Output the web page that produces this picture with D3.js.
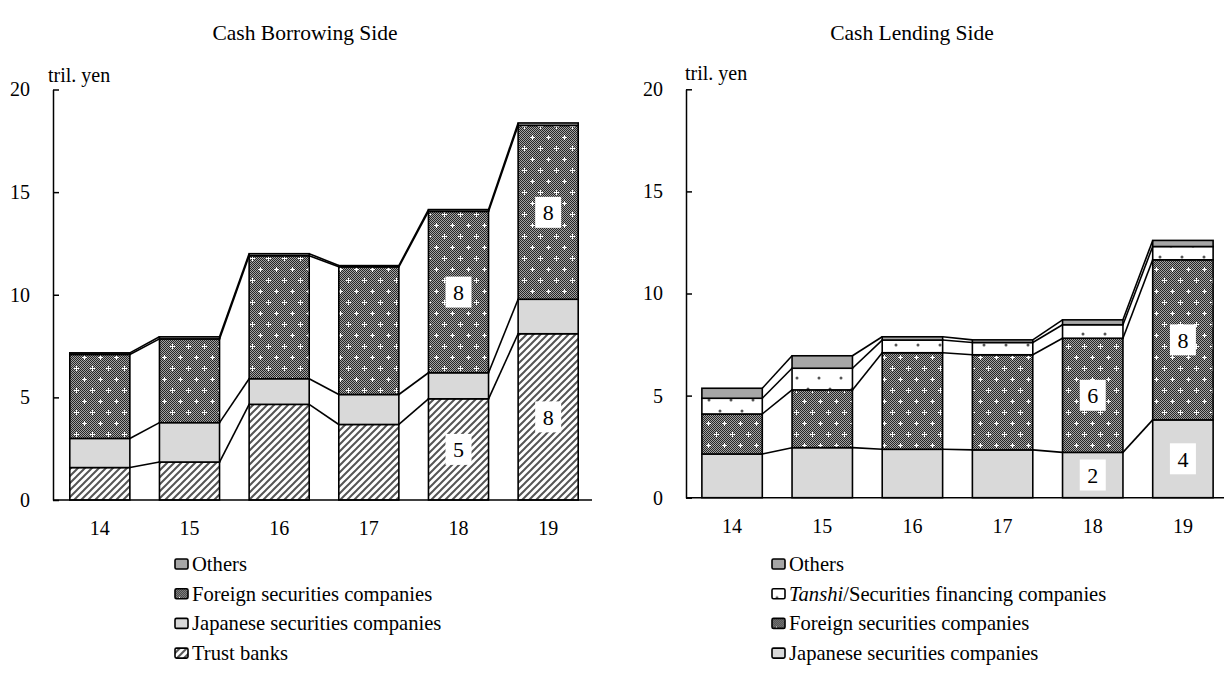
<!DOCTYPE html>
<html>
<head>
<meta charset="utf-8">
<script src="https://cdn.jsdelivr.net/npm/d3@7"></script>
<style>
  body { margin: 0; background: #fff; }
  svg { display: block; }
  text { font-family: "Liberation Serif", "Times New Roman", serif; fill: #000; }
</style>
</head>
<body>
<svg id="chart" width="1224" height="677"></svg>
<script>
// Fiscal years on the horizontal axis
const years = ["14", "15", "16", "17", "18", "19"];
const yTicks = [0, 5, 10, 15, 20];

// Cash borrowing side (tril. yen), stacked bottom to top
const borrowTrust    = [1.58, 1.85, 4.66, 3.68, 4.93, 8.10];
const borrowJapanese = [1.42, 1.92, 1.25, 1.46, 1.27, 1.68];
const borrowForeign  = [4.09, 4.08, 5.99, 6.22, 7.86, 8.47];
const borrowOthers   = [0.08, 0.10, 0.10, 0.06, 0.09, 0.12];

// Cash lending side (tril. yen), stacked bottom to top
const lendJapanese = [2.14, 2.45, 2.37, 2.34, 2.22, 3.81];
const lendForeign  = [1.96, 2.83, 4.73, 4.66, 5.59, 7.84];
const lendTanshi   = [0.77, 1.06, 0.62, 0.60, 0.66, 0.65];
const lendOthers   = [0.49, 0.61, 0.16, 0.13, 0.24, 0.30];

// Years whose segments carry a value label
const labelledYears = ["18", "19"];

const svg = d3.select("#chart");
const defs = svg.append("defs");

// --- fill patterns ---
const chk = defs.append("pattern").attr("id", "chk")
  .attr("patternUnits", "userSpaceOnUse").attr("width", 2).attr("height", 2);
chk.append("rect").attr("width", 2).attr("height", 2).attr("fill", "#a2a2a2");
chk.append("rect").attr("x", 0).attr("y", 0).attr("width", 1).attr("height", 1).attr("fill", "#262626");
chk.append("rect").attr("x", 1).attr("y", 1).attr("width", 1).attr("height", 1).attr("fill", "#262626");

const fsc = defs.append("pattern").attr("id", "foreign")
  .attr("patternUnits", "userSpaceOnUse").attr("width", 16).attr("height", 22);
fsc.append("rect").attr("width", 16).attr("height", 22).attr("fill", "url(#chk)");
[[4, 5], [12, 16]].forEach(([cx, cy]) => {
  fsc.append("rect").attr("x", cx - 2).attr("y", cy).attr("width", 5).attr("height", 1).attr("fill", "#fff");
  fsc.append("rect").attr("x", cx).attr("y", cy - 2).attr("width", 1).attr("height", 5).attr("fill", "#fff");
});

const hatch = defs.append("pattern").attr("id", "trust")
  .attr("patternUnits", "userSpaceOnUse").attr("width", 7).attr("height", 7);
hatch.append("rect").attr("width", 7).attr("height", 7).attr("fill", "#fff");
hatch.append("path").attr("d", "M-1,8 L8,-1 M-1,1 L1,-1 M6,8 L8,6")
  .attr("stroke", "#555").attr("stroke-width", 2);

const tan = defs.append("pattern").attr("id", "tanshi")
  .attr("patternUnits", "userSpaceOnUse").attr("width", 22).attr("height", 22);
tan.append("rect").attr("width", 22).attr("height", 22).attr("fill", "#fff");
[[5, 4], [16, 15]].forEach(([cx, cy]) => {
  tan.append("circle").attr("cx", cx).attr("cy", cy).attr("r", 1.5).attr("fill", "#555");
});

const fills = {
  trust: "url(#trust)",
  japanese: "#d9d9d9",
  foreign: "url(#foreign)",
  tanshi: "url(#tanshi)",
  others: "#a6a6a6"
};

const panels = [
  {
    title: "Cash Borrowing Side", titleX: 305,
    xRange: [55, 593], axisX: [53, 592], yRange: [500, 89.5],
    unitX: 48, unitY: 82,
    series: [
      { key: "trust", values: borrowTrust, name: "Trust banks", label: true },
      { key: "japanese", values: borrowJapanese, name: "Japanese securities companies", label: false },
      { key: "foreign", values: borrowForeign, name: "Foreign securities companies", label: true },
      { key: "others", values: borrowOthers, name: "Others", label: false }
    ],
    legendX: 175
  },
  {
    title: "Cash Lending Side", titleX: 912,
    xRange: [687, 1228], axisX: [686, 1224], yRange: [497.7, 89.3],
    unitX: 685, unitY: 80,
    series: [
      { key: "japanese", values: lendJapanese, name: "Japanese securities companies", label: true },
      { key: "foreign", values: lendForeign, name: "Foreign securities companies", label: true },
      { key: "tanshi", values: lendTanshi, name: "Tanshi", suffix: "/Securities financing companies", label: false },
      { key: "others", values: lendOthers, name: "Others", label: false }
    ],
    legendX: 772
  }
];

panels.forEach(p => {
  const g = svg.append("g");
  const x = d3.scaleBand().domain(years).range(p.xRange)
    .paddingInner(0.33).paddingOuter(0.165);
  const y = d3.scaleLinear().domain([0, 20]).range(p.yRange);
  const bw = x.bandwidth();

  const rows = years.map((yr, i) => {
    const r = { year: yr };
    p.series.forEach(s => { r[s.key] = s.values[i]; });
    return r;
  });
  const stacked = d3.stack().keys(p.series.map(s => s.key))(rows);

  // Title
  g.append("text").attr("x", p.titleX).attr("y", 40)
    .attr("text-anchor", "middle").attr("font-size", 21.5).text(p.title);

  // Stacked segments
  stacked.forEach(layer => {
    g.append("g").selectAll("rect").data(layer).join("rect")
      .attr("x", d => x(d.data.year))
      .attr("y", d => y(d[1]))
      .attr("width", bw)
      .attr("height", d => y(d[0]) - y(d[1]))
      .attr("fill", fills[layer.key])
      .attr("stroke", "#000").attr("stroke-width", 1.6);
  });

  // Series lines joining the segment tops of neighbouring bars
  stacked.forEach(layer => {
    const pairs = d3.pairs(layer);
    g.append("g").selectAll("line").data(pairs).join("line")
      .attr("x1", ([a]) => x(a.data.year) + bw)
      .attr("y1", ([a]) => y(a[1]))
      .attr("x2", ([, b]) => x(b.data.year))
      .attr("y2", ([, b]) => y(b[1]))
      .attr("stroke", "#000").attr("stroke-width", 1.6);
  });

  // Value labels
  p.series.filter(s => s.label).forEach(s => {
    const layer = stacked.find(l => l.key === s.key);
    const pts = layer.filter(d => labelledYears.includes(d.data.year));
    const lg = g.append("g").selectAll("g").data(pts).join("g")
      .attr("transform", d => `translate(${x(d.data.year) + bw / 2},${(y(d[0]) + y(d[1])) / 2})`);
    lg.append("rect").attr("x", -13).attr("y", -15.5).attr("width", 26).attr("height", 31).attr("fill", "#fff");
    lg.append("text").attr("text-anchor", "middle").attr("dy", "0.35em").attr("font-size", 22)
      .text(d => Math.round(d[1] - d[0]));
  });

  // Y axis with inward ticks
  const ya = g.append("g").attr("transform", `translate(${p.axisX[0]},0)`)
    .call(d3.axisLeft(y).tickValues(yTicks).tickSizeInner(-6).tickSizeOuter(0).tickPadding(23));
  ya.selectAll("path, line").attr("stroke", "#000").attr("stroke-width", 1.5);
  ya.selectAll("text").attr("font-size", 20).attr("font-family", null);

  // X axis
  const xa = g.append("g").attr("transform", `translate(0,${p.yRange[0]})`)
    .call(d3.axisBottom(x).tickSize(0).tickPadding(21));
  xa.select(".domain").remove();
  xa.selectAll("text").attr("font-size", 20).attr("font-family", null);
  g.append("line").attr("x1", p.axisX[0]).attr("x2", p.axisX[1])
    .attr("y1", p.yRange[0]).attr("y2", p.yRange[0])
    .attr("stroke", "#000").attr("stroke-width", 1.5);

  // Unit
  g.append("text").attr("x", p.unitX).attr("y", p.unitY).attr("font-size", 20).text("tril. yen");

  // Legend, top of the stack first
  const leg = g.append("g").selectAll("g").data(p.series.slice().reverse()).join("g")
    .attr("transform", (d, i) => `translate(${p.legendX},${564 + i * 29.7})`);
  leg.append("rect").attr("x", 0).attr("y", -5).attr("width", 13).attr("height", 10).attr("rx", 1.5)
    .attr("fill", d => fills[d.key]).attr("stroke", "#000").attr("stroke-width", 1.6);
  const lt = leg.append("text").attr("x", 17).attr("y", 7).attr("font-size", 20.6);
  lt.append("tspan").attr("font-style", d => d.suffix ? "italic" : null).text(d => d.name);
  lt.append("tspan").text(d => d.suffix || "");
});
</script>
</body>
</html>
